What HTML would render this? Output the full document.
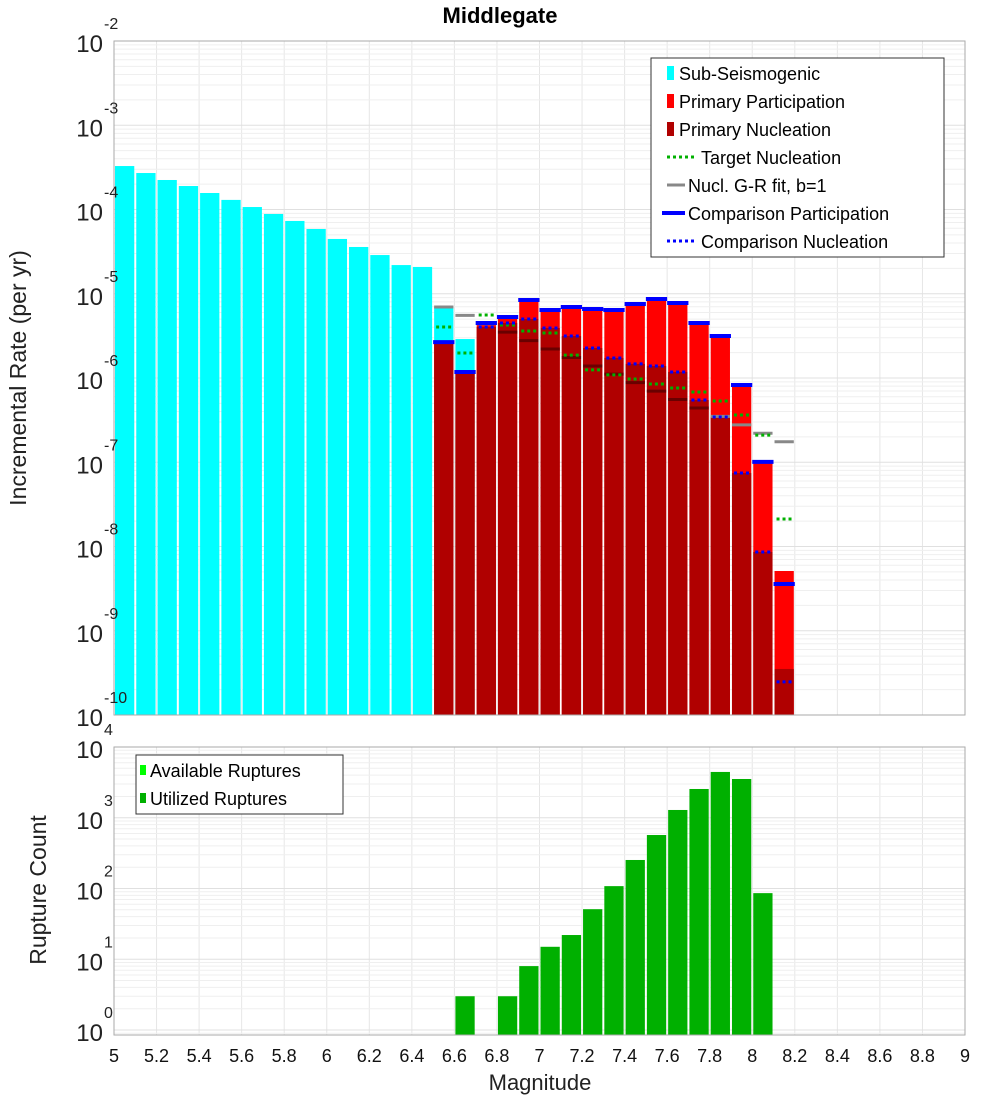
<!DOCTYPE html>
<html><head><meta charset="utf-8"><style>
body{margin:0;background:#fff}
svg{display:block;font-family:"Liberation Sans","DejaVu Sans",sans-serif}
</style></head><body>
<svg id="c" width="1000" height="1100" xmlns="http://www.w3.org/2000/svg"></svg>
<script>
const cyanBins=[5.0,5.1,5.2,5.3,5.4,5.5,5.6,5.7,5.8,5.9,6.0,6.1,6.2,6.3,6.4,6.5,6.6];
const subSeis=[3.28e-4,2.71e-4,2.24e-4,1.90e-4,1.57e-4,1.30e-4,1.07e-4,8.85e-5,7.31e-5,5.87e-5,4.47e-5,3.59e-5,2.88e-5,2.19e-5,2.08e-5,6.97e-6,2.90e-6];
const supraBins=[6.5,6.6,6.7,6.8,6.9,7.0,7.1,7.2,7.3,7.4,7.5,7.6,7.7,7.8,7.9,8.0,8.1];
const primPart=[2.67e-6,1.18e-6,4.26e-6,5.30e-6,8.43e-6,6.41e-6,6.97e-6,6.59e-6,6.41e-6,7.55e-6,8.67e-6,7.76e-6,4.50e-6,3.15e-6,8.26e-7,1.01e-7,5.12e-9];
const primNucl=[2.67e-6,1.18e-6,4.03e-6,4.50e-6,5.01e-6,3.92e-6,3.15e-6,2.27e-6,1.73e-6,1.47e-6,1.39e-6,1.18e-6,5.48e-7,3.44e-7,7.45e-8,8.61e-9,3.52e-10];
const targetNucl=[4.03e-6,1.98e-6,5.60e-6,4.26e-6,3.61e-6,3.42e-6,1.87e-6,1.25e-6,1.09e-6,9.73e-7,8.49e-7,7.60e-7,6.82e-7,5.33e-7,3.64e-7,2.10e-7,2.12e-8];
const grFit=[6.97e-6,5.54e-6,4.40e-6,3.50e-6,2.78e-6,2.21e-6,1.75e-6,1.39e-6,1.11e-6,8.80e-7,6.99e-7,5.55e-7,4.41e-7,3.50e-7,2.78e-7,2.21e-7,1.75e-7];
const compPart=[2.67e-6,1.18e-6,4.50e-6,5.30e-6,8.43e-6,6.41e-6,6.97e-6,6.59e-6,6.41e-6,7.55e-6,8.67e-6,7.76e-6,4.50e-6,3.15e-6,8.26e-7,1.01e-7,3.59e-9];
const compNucl=[2.67e-6,1.18e-6,4.03e-6,4.50e-6,5.01e-6,3.92e-6,3.15e-6,2.27e-6,1.73e-6,1.47e-6,1.39e-6,1.18e-6,5.48e-7,3.44e-7,7.45e-8,8.61e-9,2.47e-10];
const countBins=[6.6,6.8,6.9,7.0,7.1,7.2,7.3,7.4,7.5,7.6,7.7,7.8,7.9,8.0];
const utilized=[3,3,8,15,22,51,108,253,570,1288,2550,4440,3530,86];
const xTicks=["5","5.2","5.4","5.6","5.8","6","6.2","6.4","6.6","6.8","7","7.2","7.4","7.6","7.8","8","8.2","8.4","8.6","8.8","9"];
const topExp=[-2,-3,-4,-5,-6,-7,-8,-9,-10];
const botExp=[4,3,2,1,0];

const NS="http://www.w3.org/2000/svg";
const svg=document.getElementById('c');
function mk(t,a,p){const e=document.createElementNS(NS,t);for(const k in a)e.setAttribute(k,a[k]);(p||svg).appendChild(e);return e;}
const L=114,R=965,T1=41,B1=715,T2=747,B2=1035;
const X=m=>L+(m-5)*212.75;
const Y1=v=>T1+(-2-Math.log10(v))*84.25;
const Y2=v=>T2+(4-Math.log10(v))*70.75;
const bw=212.75*0.1;

// backgrounds & grids
function grid(top,bot,dec,ymap,emax,emin,name){
  const g=mk('g',{});  
  for(let i=0;i<=20;i++){const x=X(5+i*0.2);mk('line',{x1:x,x2:x,y1:top,y2:bot,stroke:'#e6e6e6','stroke-width':1},g);}
  for(let e=emin;e<emax;e++)for(let k=1;k<10;k++){const y=ymap(k*Math.pow(10,e));if(y<top||y>bot)continue;mk('line',{x1:L,x2:R,y1:y,y2:y,stroke:k==1?'#e0e0e0':'#efefef','stroke-width':1},g);}
}
grid(T1,B1,84.25,Y1,-2,-10,'top-grid');
grid(T2,B2,70.75,Y2,4,-1,'bottom-grid');

// cyan bars
cyanBins.forEach((m,i)=>{const y=Y1(subSeis[i]);const r=mk('rect',{x:X(m)+1,y:y,width:bw-2,height:B1-y,fill:'#00ffff'});
});
supraBins.forEach((m,i)=>{
  const y=Y1(primPart[i]);const r=mk('rect',{x:X(m)+1,y:y,width:bw-2,height:B1-y,fill:'#ff0000'});
  
  const y2=Y1(primNucl[i]);const r2=mk('rect',{x:X(m)+1,y:y2,width:bw-2,height:B1-y2,fill:'#b00000'});
  
});
supraBins.forEach((m,i)=>{
  const x1=X(m)+1,x2=X(m)+bw-1;
  let y=Y1(grFit[i]);const inside=y>Y1(primNucl[i]);
  const g=mk('line',{x1:x1,x2:x2,y1:y,y2:y,stroke:inside?'#6a0000':'#888','stroke-width':3});
  
  y=Y1(targetNucl[i]);const t=mk('line',{x1:x1+2,x2:x2-2,y1:y,y2:y,stroke:'#00b000','stroke-width':3,'stroke-dasharray':'3,3'});
  
  y=Y1(compNucl[i]);const n=mk('line',{x1:x1+2,x2:x2-2,y1:y,y2:y,stroke:'#0000ff','stroke-width':3,'stroke-dasharray':'3,3'});
  
  y=Y1(compPart[i]);const p=mk('line',{x1:x1-1,x2:x2+1,y1:y,y2:y,stroke:'#0000ff','stroke-width':4});
  
});
// bottom bars
countBins.forEach((m,i)=>{const y=Y2(utilized[i]);const r=mk('rect',{x:X(m)+1,y:y,width:bw-2,height:B2-y,fill:'#00b000'});
});

// frames
mk('rect',{x:L,y:T1,width:R-L,height:B1-T1,fill:'none',stroke:'#aaa'});
mk('rect',{x:L,y:T2,width:R-L,height:B2-T2,fill:'none',stroke:'#aaa'});

// y tick labels
function ylab(ty,exp){const t=mk('text',{x:103,y:ty+11,'text-anchor':'end','font-size':24,fill:'#222'});t.textContent='10';

const s=mk('text',{x:104,y:ty-12,'font-size':16,fill:'#222'});s.textContent=exp;
}
topExp.forEach(e=>ylab(Y1(Math.pow(10,e)),e));
botExp.forEach(e=>ylab(Y2(Math.pow(10,e)),e));
xTicks.forEach(s=>{const t=mk('text',{x:X(parseFloat(s)),y:1062,'text-anchor':'middle','font-size':18,fill:'#111'});t.textContent=s;
});
</script>
<svg width="1000" height="1100" style="position:absolute;left:0;top:0" xmlns="http://www.w3.org/2000/svg" font-family="Liberation Sans, DejaVu Sans, sans-serif">
<text x="500" y="23" text-anchor="middle" font-size="22" font-weight="bold">Middlegate</text>
<text x="540" y="1090" text-anchor="middle" font-size="22" fill="#222">Magnitude</text>
<text transform="translate(26,378) rotate(-90)" text-anchor="middle" font-size="23" fill="#222">Incremental Rate (per yr)</text>
<text transform="translate(46,890) rotate(-90)" text-anchor="middle" font-size="23" fill="#222">Rupture Count</text>
<g font-size="18">
<rect x="651" y="58" width="293" height="199" fill="#fff" stroke="#333"/>
<rect x="667" y="66" width="7" height="14" fill="#00ffff"/><text x="679" y="80">Sub-Seismogenic</text>
<rect x="667" y="94" width="7" height="14" fill="#ff0000"/><text x="679" y="108">Primary Participation</text>
<rect x="667" y="122" width="7" height="14" fill="#b00000"/><text x="679" y="136">Primary Nucleation</text>
<line x1="667" x2="694" y1="157" y2="157" stroke="#00b000" stroke-width="3" stroke-dasharray="3,3"/><text x="701" y="164">Target Nucleation</text>
<line x1="667" x2="685" y1="185" y2="185" stroke="#888" stroke-width="3"/><text x="688" y="192">Nucl. G-R fit, b=1</text>
<line x1="662" x2="685" y1="213" y2="213" stroke="#0000ff" stroke-width="4"/><text x="688" y="220">Comparison Participation</text>
<line x1="667" x2="694" y1="241" y2="241" stroke="#0000ff" stroke-width="3" stroke-dasharray="3,3"/><text x="701" y="248">Comparison Nucleation</text>
</g>
<g font-size="18">
<rect x="136" y="755" width="207" height="59" fill="#fff" stroke="#333"/>
<rect x="140" y="765" width="6" height="10" fill="#00ff00"/><text x="150" y="777">Available Ruptures</text>
<rect x="140" y="793" width="6" height="10" fill="#00b000"/><text x="150" y="805">Utilized Ruptures</text>
</g>
</svg>
</body></html>
